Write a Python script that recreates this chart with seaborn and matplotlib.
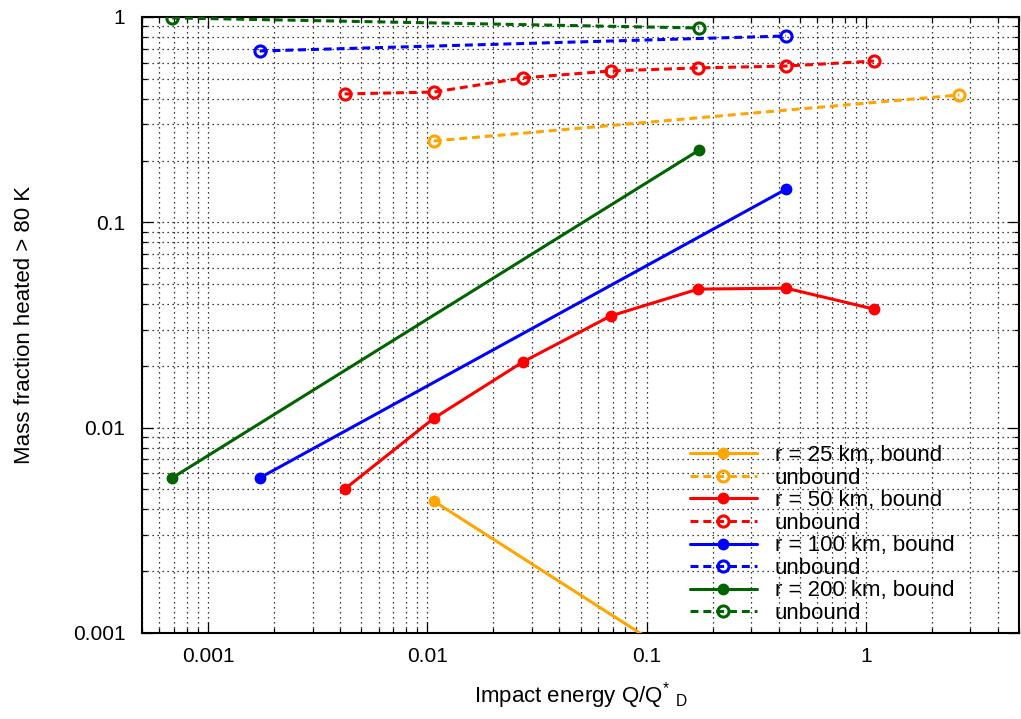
"""Mass fraction heated above 80 K vs. impact energy, log-log (gnuplot look)."""

import numpy as np
import pandas as pd
import matplotlib
matplotlib.use("Agg")
import matplotlib.pyplot as plt
import matplotlib.ticker as mticker
import seaborn as sns

# ---- data ------------------------------------------------------------------
R25_X_BOUND   = [0.0107, 2.67]
R25_Y_BOUND   = [0.00439, 0.000101]
R25_X_UNBOUND = [0.0107, 2.67]
R25_Y_UNBOUND = [0.249, 0.417]

R50_X         = [0.0042, 0.0107, 0.0273, 0.0686, 0.172, 0.433, 1.09]
R50_Y_BOUND   = [0.00502, 0.0111, 0.0209, 0.0350, 0.0473, 0.0478, 0.0378]
R50_Y_UNBOUND = [0.422, 0.431, 0.505, 0.546, 0.565, 0.577, 0.610]

R100_X         = [0.00172, 0.433]
R100_Y_BOUND   = [0.00569, 0.145]
R100_Y_UNBOUND = [0.683, 0.808]

R200_X         = [0.000686, 0.174]
R200_Y_BOUND   = [0.00569, 0.225]
R200_Y_UNBOUND = [0.990, 0.884]

ORANGE = "#FFA500"
RED    = "#FF0000"
BLUE   = "#0000FF"
GREEN  = "#006400"

SERIES = [
    ("r = 25 km, bound", R25_X_BOUND, R25_Y_BOUND, ORANGE, False),
    ("unbound", R25_X_UNBOUND, R25_Y_UNBOUND, ORANGE, True),
    ("r = 50 km, bound", R50_X, R50_Y_BOUND, RED, False),
    ("unbound", R50_X, R50_Y_UNBOUND, RED, True),
    ("r = 100 km, bound", R100_X, R100_Y_BOUND, BLUE, False),
    ("unbound", R100_X, R100_Y_UNBOUND, BLUE, True),
    ("r = 200 km, bound", R200_X, R200_Y_BOUND, GREEN, False),
    ("unbound", R200_X, R200_Y_UNBOUND, GREEN, True),
]


def main():
    sns.set_style("ticks")
    plt.rcParams["font.family"] = ["Liberation Sans", "DejaVu Sans"]
    plt.rcParams["text.color"] = "black"
    plt.rcParams["axes.labelcolor"] = "black"
    plt.rcParams["mathtext.fontset"] = "custom"
    plt.rcParams["mathtext.rm"] = "Liberation Sans"
    plt.rcParams["mathtext.it"] = "Liberation Sans"

    fig = plt.figure(figsize=(10.21, 7.19), dpi=100)
    ax = fig.add_axes([142 / 1021, 1 - 633 / 719, 877 / 1021, 616 / 719])

    for label, xs, ys, color, unbound in SERIES:
        df = pd.DataFrame({"x": xs, "y": ys})
        kw = dict(color=color, lw=2.2, marker="o", markeredgecolor=color,
                  label=label, sort=False, errorbar=None, ax=ax, zorder=3)
        if unbound:
            kw.update(linestyle=(0, (2.6, 1.6)), markerfacecolor="none",
                      markersize=8, markeredgewidth=2.2)
        else:
            kw.update(linestyle="-", markerfacecolor=color,
                      markersize=7.5, markeredgewidth=1)
        sns.lineplot(data=df, x="x", y="y", **kw)

    ax.set_xscale("log")
    ax.set_yscale("log")
    ax.set_xlim(5e-4, 5)
    ax.set_ylim(1e-3, 1)

    fmt = mticker.FuncFormatter(lambda v, _: f"{v:g}")
    ax.xaxis.set_major_formatter(fmt)
    ax.yaxis.set_major_formatter(fmt)
    ax.xaxis.set_minor_formatter(mticker.NullFormatter())
    ax.yaxis.set_minor_formatter(mticker.NullFormatter())
    ax.xaxis.set_minor_locator(mticker.LogLocator(base=10, subs=np.arange(2, 10)))
    ax.yaxis.set_minor_locator(mticker.LogLocator(base=10, subs=np.arange(2, 10)))

    ax.grid(which="both", linestyle=(0, (1, 3)), color="black", lw=0.9)
    ax.set_axisbelow(True)

    ax.tick_params(which="both", direction="in", top=True, right=True,
                   width=0.9, colors="black")
    ax.tick_params(which="major", length=8, labelsize=15)
    ax.tick_params(which="minor", length=3.5)
    ax.tick_params(axis="y", pad=12)
    ax.tick_params(axis="x", pad=10)
    for sp in ax.spines.values():
        sp.set_linewidth(1.5)
        sp.set_color("black")

    ax.set_ylabel("Mass fraction heated > 80 K", fontsize=16)
    ax.yaxis.set_label_coords(-(142 - 35) / 877, 0.5)
    ax.set_xlabel(r"Impact energy Q/Q$^{*}$ $_{\mathrm{D}}$", fontsize=16,
                  family=["Liberation Sans Narrow", "Liberation Sans"])
    ax.xaxis.set_label_coords(0.5, -(680 - 633) / 616)

    ax.legend(loc="upper left", bbox_to_anchor=(0.625, 0.305), frameon=False,
              fontsize=16, handlelength=3.0, handletextpad=0.8,
              labelspacing=0.07, borderpad=0, borderaxespad=0)

    fig.savefig("out.png", dpi=100)
    plt.close(fig)


if __name__ == "__main__":
    main()
